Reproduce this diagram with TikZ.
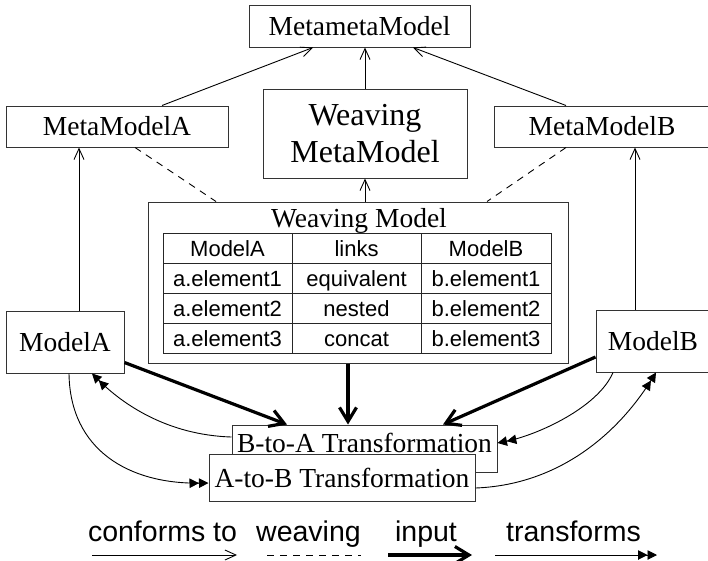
\documentclass[tikz,border=0pt]{standalone}
\usepackage{fontspec}
\setmainfont{Liberation Serif}
\setsansfont{Liberation Sans}
\usetikzlibrary{arrows.meta}
\begin{document}
\begin{tikzpicture}[x=1pt,y=-1pt,
  box/.style={draw=black!80, line width=1pt, inner sep=0pt, fill=white,
    font=\fontsize{27.5}{33}\selectfont},
  cell/.style={draw=black!85, line width=1pt, inner sep=0pt, minimum height=30pt,
    font=\sffamily\fontsize{22}{26}\selectfont, text height=15.8pt, text depth=0pt},
  conf/.style={line width=0.9pt, -{Straight Barb[length=11pt,width=10pt]}},
  weave/.style={line width=0.9pt, dash pattern=on 7pt off 6pt},
  inp/.style={line width=3.2pt, -{Straight Barb[length=14pt,width=17pt]}},
  trans/.style={line width=0.9pt, -{Triangle[length=9.5pt,width=9.5pt]Triangle[length=9.5pt,width=9.5pt]}},
  legend/.style={font=\sffamily\fontsize{28.5}{34}\selectfont, inner sep=0pt, anchor=base}
]
\useasboundingbox (0,0) rectangle (708,560);

% boxes
\node[box, minimum width=221pt, minimum height=42pt] (mmm) at (359.5,26) {MetametaModel};
\node[box, minimum width=222pt, minimum height=41pt] (mmA) at (117,126.5) {MetaModelA};
\node[box, minimum width=204pt, minimum height=89pt, align=center,
  font=\fontsize{32}{37}\selectfont] (wmm) at (365,133.5) {Weaving\\MetaModel};
\node[box, minimum width=216pt, minimum height=41pt] (mmB) at (602,126.5) {MetaModelB};

\node[box, minimum width=420pt, minimum height=161pt] (wm) at (358,282.5) {};
\node[font=\fontsize{27.5}{33}\selectfont, anchor=base, inner sep=0pt] (wmt) at (359,227) {Weaving Model};

% table
\node[cell, minimum width=129pt] (c11) at (227.5,248.5) {ModelA};
\node[cell, minimum width=129pt] (c12) at (356.5,248.5) {links};
\node[cell, minimum width=130pt] (c13) at (486,248.5) {ModelB};
\node[cell, minimum width=129pt] (c21) at (227.5,278.5) {a.element1};
\node[cell, minimum width=129pt] (c22) at (356.5,278.5) {equivalent};
\node[cell, minimum width=130pt] (c23) at (486,278.5) {b.element1};
\node[cell, minimum width=129pt] (c31) at (227.5,308.5) {a.element2};
\node[cell, minimum width=129pt] (c32) at (356.5,308.5) {nested};
\node[cell, minimum width=130pt] (c33) at (486,308.5) {b.element2};
\node[cell, minimum width=129pt] (c41) at (227.5,338.5) {a.element3};
\node[cell, minimum width=129pt] (c42) at (356.5,338.5) {concat};
\node[cell, minimum width=130pt] (c43) at (486,338.5) {b.element3};

\node[box, minimum width=118pt, minimum height=62pt] (ModelA) at (65,342) {ModelA};
\node[box, minimum width=114pt, minimum height=62pt] (ModelB) at (653,341) {ModelB};

\node[box, minimum width=265pt, minimum height=47pt, text height=18pt, text depth=11pt] (BtoA) at (364.5,448.5) {B-to-A Transformation};
\node[box, minimum width=266pt, minimum height=47pt] (AtoB) at (342,477.5) {A-to-B Transformation};

% conforms to
\draw[conf] ([xshift=14pt]ModelA.north) -- ([xshift=-38pt]mmA.south);
\draw[conf] ([xshift=-18pt]ModelB.north) -- ([xshift=33pt]mmB.south);
\draw[conf] ([xshift=45pt]mmA.north) -- ([xshift=-46.5pt]mmm.south);
\draw[conf] ([xshift=-36pt]mmB.north) -- ([xshift=53.5pt]mmm.south);
\draw[conf] (wmm.north) -- (wmm.north |- mmm.south);
\draw[conf] ([xshift=7pt]wm.north) -- (wmm.south);

% weaving
\draw[weave] ([xshift=18pt]mmA.south) -- ([xshift=-142pt]wm.north);
\draw[weave] ([xshift=-36pt]mmB.south) -- ([xshift=129pt]wm.north);

% input
\draw[inp] ([yshift=11pt]ModelA.south east) -- ([xshift=-77.5pt]BtoA.north);
\draw[inp] ([xshift=-10pt]wm.south) -- ([xshift=-16.5pt]BtoA.north);
\draw[inp] ([yshift=-16pt]ModelB.west) -- ([xshift=78.5pt]BtoA.north);

% transforms
\draw[trans] ([yshift=11.5pt]BtoA.west) .. controls +(-65,-2) and +(30,30) .. ([xshift=27pt]ModelA.south);
\draw[trans] ([xshift=4pt]ModelA.south) .. controls +(1,77) and +(-79,1) .. ([yshift=-5.5pt]AtoB.west);
\draw[trans] ([xshift=-40pt]ModelB.south) .. controls +(-15,35) and +(40,-8) .. ([yshift=5.5pt]BtoA.east);
\draw[trans] ([yshift=-10.5pt]AtoB.east) .. controls +(80,-3) and +(-41,65) .. ([xshift=3pt]ModelB.south);

% legend
\node[legend] (lt1) at (162.5,541) {conforms to};
\node[legend] (lt2) at (308.5,541) {weaving};
\node[legend] (lt3) at (426,541) {input};
\node[legend] (lt4) at (573.5,541) {transforms};
\coordinate (la1) at (92,555);  \coordinate (lb1) at (237,555);
\coordinate (la2) at (267,555); \coordinate (lb2) at (361,555);
\coordinate (la3) at (388,555); \coordinate (lb3) at (472,555);
\coordinate (la4) at (495,555); \coordinate (lb4) at (657,555);
\draw[conf] (la1) -- (lb1);
\draw[weave] (la2) -- (lb2);
\draw[inp] (la3) -- (lb3);
\draw[trans] (la4) -- (lb4);
\end{tikzpicture}
\end{document}
